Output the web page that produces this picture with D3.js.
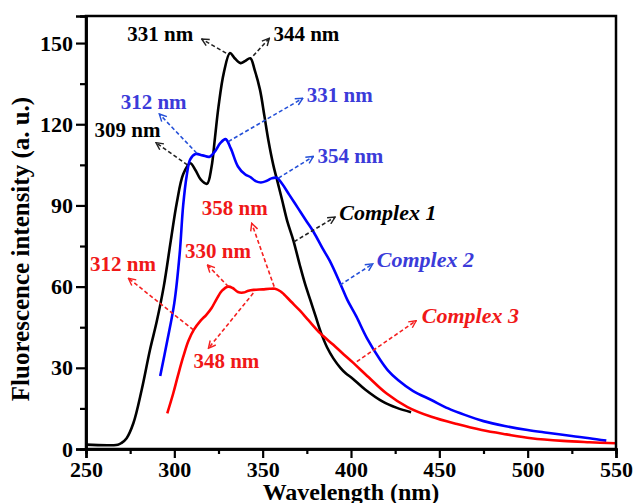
<!DOCTYPE html>
<html>
<head>
<meta charset="utf-8">
<script src="https://cdn.jsdelivr.net/npm/d3@7"></script>
<style>
  body { margin: 0; background: #fff; }
  svg text { font-family: "Liberation Serif", "Times New Roman", serif; font-weight: bold; }
</style>
</head>
<body>
<script>
// Wavelength (nm) / intensity (a. u.)
const wl1 = [250, 268, 270, 273, 276.8, 281.5, 286.2, 290, 294, 298, 301.4, 305, 309, 312, 315, 318.5, 321, 323, 325, 328, 331.5, 334, 337.5, 340, 343, 345.5, 348.5, 351, 353.2, 356, 358.5, 361, 364, 367.4, 371, 374, 377, 380, 383, 386.5, 390, 394, 397, 401, 408, 418, 426, 434];
const int1 = [1.6, 1.6, 2.2, 4, 9.5, 21.8, 36.6, 47, 60, 77, 91, 101.5, 105.6, 103, 99.5, 98, 104, 115, 126.5, 139, 146.3, 144.5, 142.6, 143.3, 144.4, 140, 132.7, 123, 114.2, 105, 98.5, 92, 84, 77, 68, 61, 55, 49, 43, 37.5, 33.5, 30, 28, 26, 22, 17.5, 15.2, 13.6];

const wl2 = [292, 296, 300, 303, 305, 307, 309, 312, 316, 320, 323, 326, 329, 332, 336, 340, 343, 346, 349, 352, 355, 358, 361, 365, 370, 375, 379, 384, 388, 394, 398, 403, 409, 416.5, 421, 426.6, 435, 445.5, 455, 464.4, 475, 487, 500, 511, 525, 535, 544.5];
const int2 = [27, 40, 54, 72, 90, 101, 107, 109, 108.5, 108, 110, 113, 114.5, 111, 104.4, 101.5, 100.5, 99, 98.5, 99, 100, 100.2, 98, 94, 89, 84, 80, 74, 69.5, 61, 55, 49, 41, 33, 29, 25.5, 21.5, 18.1, 15, 12.6, 10.3, 8.5, 7, 6, 4.8, 4, 3.1];

const wl3 = [296, 299.4, 302, 305, 308, 311, 315, 318, 321, 324, 327, 330.5, 333, 336, 339, 342, 345, 350, 354, 357, 360, 362, 366, 371, 376, 382.5, 390, 395, 401, 410, 420, 432, 445.5, 460, 474, 488, 502, 520, 535, 550];
const int3 = [13.2, 20.6, 27, 34, 40, 44, 47.5, 49.5, 52, 55.5, 58.5, 60, 59.5, 58, 57.8, 58.5, 58.8, 59, 59.2, 59.2, 58.3, 57.2, 54.5, 51.2, 47.5, 42.8, 38.5, 35.5, 32, 26.5, 20.6, 15.5, 11.9, 9.2, 7, 5.4, 4, 3, 2.5, 2.1];

const xTicks = [250, 300, 350, 400, 450, 500, 550];
const xMinor = [275, 325, 375, 425, 475, 525];
const yTicks = [0, 30, 60, 90, 120, 150];
const yMinor = [15, 45, 75, 105, 135];

// Annotations: label, arrow tail (on curve), arrow head, label anchor (all in data units)
const noteText = ["331 nm", "344 nm", "309 nm", "312 nm", "331 nm", "354 nm", "Complex 1", "Complex 2", "Complex 3", "358 nm", "330 nm", "312 nm", "348 nm"];
const noteSeries = [1, 1, 1, 2, 2, 2, 1, 2, 3, 3, 3, 3, 3];
const noteFrom = [[329.3, 146.3], [344.7, 145.3], [307.4, 105], [312.7, 109.3], [330.6, 113.6], [358.9, 100.1], [367.8, 76.6], [393.8, 60.6], [403.3, 32.3], [356.5, 60], [330.6, 60], [310.8, 44], [344.7, 57.6]];
const noteTo = [[315.5, 151.5], [353.8, 151.8], [289.6, 113.2], [291.5, 123.8], [372.7, 129.6], [378.7, 108.1], [391, 85.7], [412.3, 68.4], [436.9, 47.4], [343.8, 83.4], [318.7, 68], [274, 63.1], [319.3, 37.2]];
const noteAt = [[273.4, 150.6], [356.1, 150.6], [254.8, 115.2], [269.6, 125.6], [375, 128.4], [381, 105.6], [393.4, 84.7], [414.6, 67.2], [440.1, 46.5], [315.5, 86.5], [306.1, 70.5], [252.3, 65.9], [310.8, 29.8]];

document.addEventListener('DOMContentLoaded', () => {
  const w = 635;
  const h = 503;

  const xScale = d3.scaleLinear().domain([250, 550]).range([86, 616]);
  const yScale = d3.scaleLinear().domain([0, 160]).range([449, 16]);

  const lineColor = { 1: "#000000", 2: "#0000ff", 3: "#ff0000" };
  const textColor = { 1: "#000000", 2: "#3b3bd9", 3: "#f01818" };
  const arrowColor = { 1: "#222222", 2: "#2550d8", 3: "#f52020" };

  const svg = d3.select("body")
    .append("svg")
    .attr("width", w)
    .attr("height", h);

  // open arrow heads, one per colour
  const defs = svg.append("defs");
  [1, 2, 3].forEach(k => {
    defs.append("marker")
      .attr("id", `head${k}`)
      .attr("viewBox", "0 0 10 10")
      .attr("refX", 9)
      .attr("refY", 5)
      .attr("markerWidth", 9)
      .attr("markerHeight", 9)
      .attr("markerUnits", "userSpaceOnUse")
      .attr("orient", "auto")
      .append("path")
      .attr("d", "M1,1 L9,5 L1,9")
      .attr("fill", "none")
      .attr("stroke", arrowColor[k])
      .attr("stroke-width", 1.6);
  });

  // spectra
  const line = d3.line()
    .x(d => xScale(d[0]))
    .y(d => yScale(d[1]))
    .curve(d3.curveCatmullRom.alpha(0.5));

  const series = [
    { k: 1, pts: d3.zip(wl1, int1) },
    { k: 2, pts: d3.zip(wl2, int2) },
    { k: 3, pts: d3.zip(wl3, int3) }
  ];

  svg.selectAll("path.spec")
    .data(series)
    .enter()
    .append("path")
    .attr("class", "spec")
    .attr("d", d => line(d.pts))
    .attr("fill", "none")
    .attr("stroke", d => lineColor[d.k])
    .attr("stroke-width", 2.6)
    .attr("stroke-linejoin", "round");

  // annotation arrows
  svg.selectAll("line.note")
    .data(noteText.map((t, i) => i))
    .enter()
    .append("line")
    .attr("class", "note")
    .attr("x1", i => xScale(noteFrom[i][0]))
    .attr("y1", i => yScale(noteFrom[i][1]))
    .attr("x2", i => xScale(noteTo[i][0]))
    .attr("y2", i => yScale(noteTo[i][1]))
    .attr("stroke", i => arrowColor[noteSeries[i]])
    .attr("stroke-width", 1.6)
    .attr("stroke-dasharray", "4,2.5")
    .attr("marker-end", i => `url(#head${noteSeries[i]})`);

  svg.selectAll("text.note")
    .data(noteText.map((t, i) => i))
    .enter()
    .append("text")
    .attr("class", "note")
    .attr("x", i => xScale(noteAt[i][0]))
    .attr("y", i => yScale(noteAt[i][1]))
    .attr("fill", i => textColor[noteSeries[i]])
    .style("font-size", i => noteText[i].startsWith("Complex") ? "22px" : "21px")
    .style("font-style", i => noteText[i].startsWith("Complex") ? "italic" : "normal")
    .text(i => noteText[i]);

  // frame
  svg.append("rect")
    .attr("x", xScale(250))
    .attr("y", yScale(160))
    .attr("width", xScale(550) - xScale(250))
    .attr("height", yScale(0) - yScale(160))
    .attr("fill", "none")
    .attr("stroke", "#000")
    .attr("stroke-width", 2.5);

  // axes
  const xAxis = d3.axisBottom(xScale).tickValues(xTicks).tickSize(9).tickPadding(3);
  const xAxisMinor = d3.axisBottom(xScale).tickValues(xMinor).tickSize(5).tickFormat("");
  const yAxis = d3.axisLeft(yScale).tickValues(yTicks).tickSize(10).tickPadding(3);
  const yAxisMinor = d3.axisLeft(yScale).tickValues(yMinor).tickSize(6).tickFormat("");

  const styleAxis = g => {
    g.select(".domain").attr("stroke-width", 2.5);
    g.selectAll(".tick line").attr("stroke-width", 2.2);
    g.selectAll(".tick text")
      .attr("fill", "#000")
      .style("font-size", "22px")
      .style("font-family", "'Liberation Serif', 'Times New Roman', serif")
      .style("font-weight", "bold");
  };

  svg.append("g")
    .attr("transform", `translate(0, ${yScale(0)})`)
    .call(xAxis)
    .call(styleAxis);
  svg.append("g")
    .attr("transform", `translate(0, ${yScale(0)})`)
    .call(xAxisMinor)
    .call(styleAxis);
  svg.append("g")
    .attr("transform", `translate(${xScale(250)}, 0)`)
    .call(yAxis)
    .call(styleAxis);
  svg.append("g")
    .attr("transform", `translate(${xScale(250)}, 0)`)
    .call(yAxisMinor)
    .call(styleAxis);

  // axis titles
  svg.append("text")
    .attr("transform", `translate(29, 249) rotate(-90)`)
    .style("text-anchor", "middle")
    .style("font-size", "25px")
    .text("Fluorescence intensity (a. u.)");

  svg.append("text")
    .attr("x", 351)
    .attr("y", 500)
    .style("text-anchor", "middle")
    .style("font-size", "24px")
    .text("Wavelength (nm)");
});
</script>
</body>
</html>
